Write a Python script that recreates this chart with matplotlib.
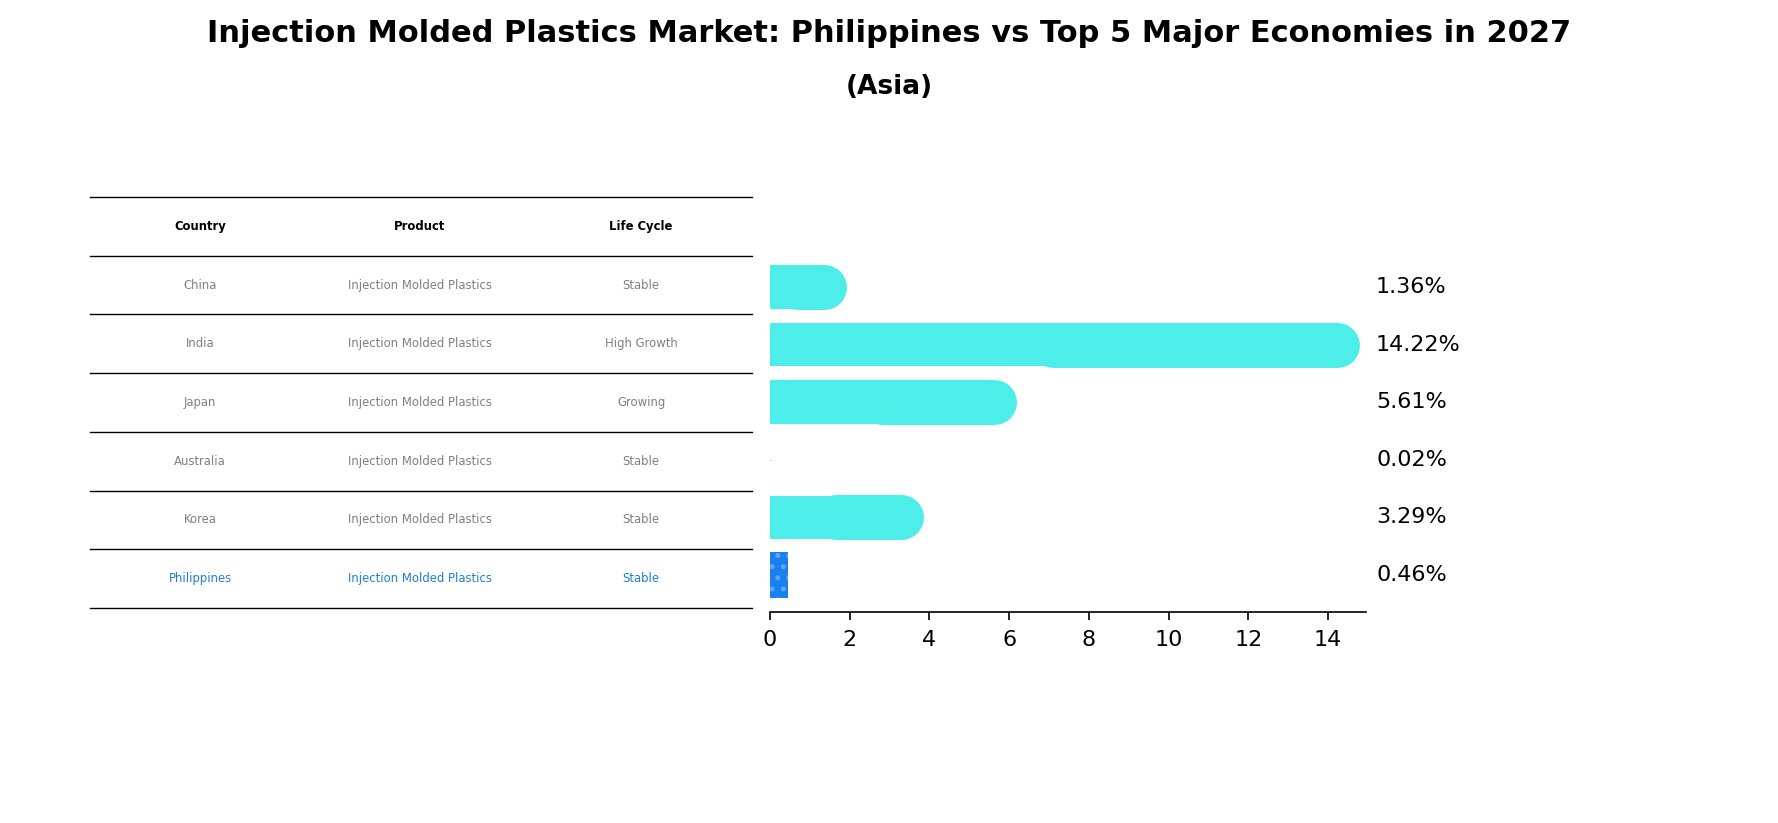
import matplotlib.pyplot as plt

countries = ["China", "India", "Japan", "Australia", "Korea", "Philippines"]
product = "Injection Molded Plastics"
life_cycle = ["Stable", "High Growth", "Growing", "Stable", "Stable", "Stable"]
values = [1.36, 14.22, 5.61, 0.02, 3.29, 0.46]
xticks = [0, 2, 4, 6, 8, 10, 12, 14]

W, H = 1778, 823
fig = plt.figure(figsize=(W / 200, H / 200), dpi=200)

fig.text(0.5, 1 - 33 / H, "Injection Molded Plastics Market: Philippines vs Top 5 Major Economies in 2027",
         ha="center", va="center", fontsize=11, fontweight="bold")
fig.text(0.5, 1 - 87 / H, "(Asia)", ha="center", va="center", fontsize=9.5, fontweight="bold")

# table drawn in figure pixels
row_top, row_h = 197, 58.7
col_x = [200, 420, 641]
for k in range(8):
    y = 1 - (row_top + k * row_h) / H
    fig.add_artist(plt.Line2D([90 / W, 752 / W], [y, y], color="black", lw=0.5))
for j, h in enumerate(["Country", "Product", "Life Cycle"]):
    fig.text(col_x[j] / W, 1 - (row_top + row_h / 2) / H, h, ha="center", va="center",
             fontsize=4.2, fontweight="bold")
for i, c in enumerate(countries):
    col = "#1f7fd0" if c == "Philippines" else "gray"
    yc = 1 - (row_top + (i + 1.5) * row_h) / H
    for j, t in enumerate([c, product, life_cycle[i]]):
        fig.text(col_x[j] / W, yc, t, ha="center", va="center", fontsize=4.2, color=col)

ax = fig.add_axes([770 / W, (H - 612) / H, 596 / W, (612 - 197) / H])
ax.set_xlim(0, 14.95)
ax.set_ylim(5.64, -1.56)
lw = 45 / 200 * 72
for i, v in enumerate(values):
    if countries[i] == "Philippines":
        ax.barh(i, v, height=0.8, color="#1a80f0", hatch="...", edgecolor="#5aa8ff", lw=0)
    else:
        ax.barh(i, v / 2, height=0.76, color="#4deeea", lw=0)
        ax.plot([v / 2, v], [i, i], color="#4deeea", lw=lw if v > 0.1 else 0.3,
                solid_capstyle="round")
    ax.text(1 + 10 / 596, i, f"{v:.2f}%", transform=ax.get_yaxis_transform(),
            va="center", ha="left", fontsize=8)
ax.set_xticks(xticks)
ax.tick_params(axis="x", labelsize=8, width=0.6, length=3)
ax.spines["bottom"].set_linewidth(0.6)
ax.set_yticks([])
for s in ["top", "right", "left"]:
    ax.spines[s].set_visible(False)

fig.savefig("out.png", dpi=200)
